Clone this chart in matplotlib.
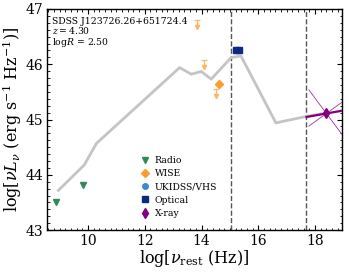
import numpy as np
import matplotlib.pyplot as plt
from matplotlib.ticker import MultipleLocator

plt.rcParams['font.family'] = 'DejaVu Serif'
plt.rcParams['mathtext.fontset'] = 'dejavuserif'

# SED template (gray line), log nu_rest vs log nuLnu
sed_nu = [8.96, 9.87, 10.30, 13.23, 13.64, 13.99, 14.34, 15.04, 15.39, 16.62, 17.73, 18.40]
sed_L = [43.72, 44.18, 44.57, 45.94, 45.82, 45.87, 45.73, 46.12, 46.15, 44.94, 45.06, 45.12]

# photometry
radio_nu = [8.87, 9.84]
radio_L = [43.51, 43.81]
wise_nu = [14.63]
wise_L = [45.64]
wise_lim_nu = [13.84, 14.10, 14.52]
wise_lim_L = [46.80, 46.08, 45.56]
opt_nu = [15.22, 15.32]
opt_L = [46.26, 46.26]
xray_nu = 18.40
xray_L = 45.11
xray_slope = 0.09          # best-fit slope of nuLnu
xray_slope_lo = -0.69
xray_slope_hi = 0.37
xray_band = [17.70, 19.10]
xray_err_band = [17.78, 19.10]

# dashed reference frequencies
vlines_nu = [15.05, 17.68]

fig = plt.figure(figsize=(3.49, 2.72), dpi=100)
ax = fig.add_axes([0.135, 0.154, 0.845, 0.813])

ax.plot(sed_nu, sed_L, color='#c4c4c4', lw=2.0, zorder=1)
for v in vlines_nu:
    ax.axvline(v, color='#555555', ls='--', lw=1.0, zorder=0)

ax.plot(radio_nu, radio_L, 'v', color='#2e8b57', ms=4.5, ls='none', label='Radio')
ax.plot(wise_nu, wise_L, 'D', color='#ff9a2e', ms=4.5, ls='none', label='WISE')
ax.plot([], [], 'o', color='#3b8bd0', ms=4, ls='none', label='UKIDSS/VHS')
ax.plot(opt_nu, opt_L, 's', color='#0d2b7e', ms=4.5, ls='none', label='Optical')
ax.plot([xray_nu], [xray_L], 'd', color='#800080', ms=5, ls='none', label='X-ray', zorder=4)

# WISE upper limits
lim_len = 0.13
lim_col = '#ffb466'
ax.vlines(wise_lim_nu, np.array(wise_lim_L) - lim_len, wise_lim_L, color=lim_col, lw=0.9)
ax.plot(wise_lim_nu, wise_lim_L, '_', color=lim_col, ms=4, mew=0.9)
ax.plot(wise_lim_nu, np.array(wise_lim_L) - lim_len, 'v', color=lim_col, ms=3)

# X-ray power law and bow-tie
band = np.array(xray_band)
ax.plot(band, xray_L + xray_slope * (band - xray_nu), color='#800080', lw=1.6, zorder=3)
eb = np.array(xray_err_band)
for s in [xray_slope_lo, xray_slope_hi]:
    ax.plot(eb, xray_L + s * (eb - xray_nu), color='#9b30a8', lw=0.6, zorder=3)

ax.set_xlim(8.56, 18.95)
ax.set_ylim(43, 47)
ax.xaxis.set_major_locator(MultipleLocator(2))
ax.xaxis.set_minor_locator(MultipleLocator(0.2))
ax.yaxis.set_major_locator(MultipleLocator(1))
ax.yaxis.set_minor_locator(MultipleLocator(0.125))
ax.tick_params(which='both', direction='in', top=True, right=True, labelsize=10)
ax.tick_params(which='major', length=3.5, width=0.8, pad=3)
ax.tick_params(which='minor', length=1.8, width=0.6)
for sp in ax.spines.values():
    sp.set_linewidth(1.0)

ax.set_xlabel(r'$\log[\nu_{\rm rest}\ {\rm (Hz)}]$', fontsize=11.5, labelpad=0)
ax.set_ylabel(r'$\log[\nu L_\nu\ {\rm (erg\ s^{-1}\ Hz^{-1})}]$', fontsize=11.5, labelpad=1)

ax.text(0.015, 0.965, 'SDSS J123726.26+651724.4\n$z = 4.30$\nlog$R$ = 2.50',
        transform=ax.transAxes, fontsize=6.7, va='top', ha='left', linespacing=0.95)

ax.legend(loc='lower left', bbox_to_anchor=(0.295, 0.03), frameon=False, fontsize=6.7,
          handletextpad=0.4, labelspacing=0.45, handlelength=1.2, borderaxespad=0.2)

fig.savefig('out.png', dpi=100)
